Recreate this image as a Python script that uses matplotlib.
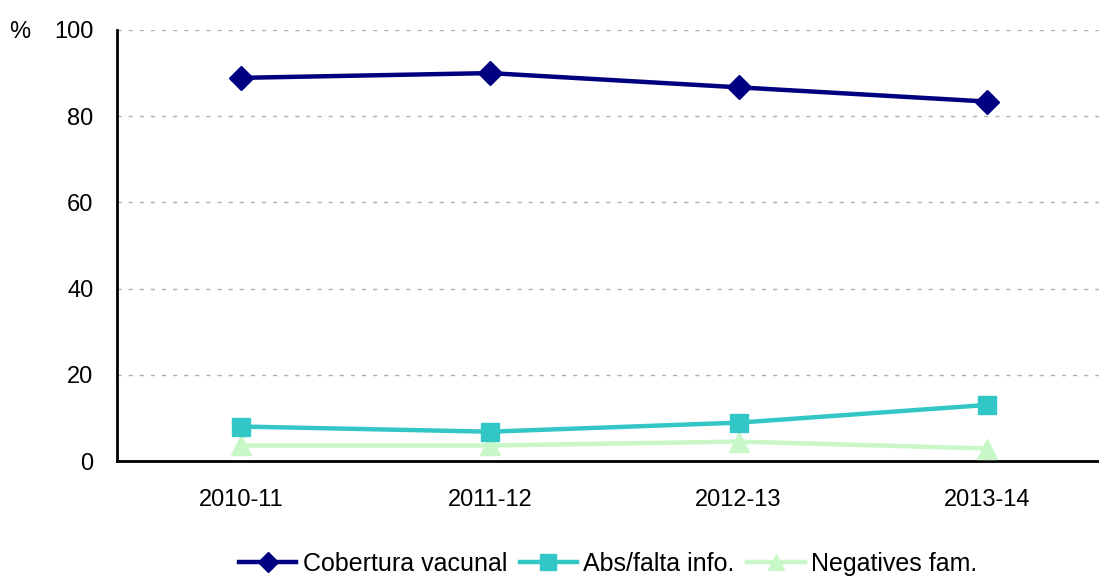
import matplotlib.pyplot as plt

plt.rcParams['font.family'] = ['Liberation Sans', 'DejaVu Sans']

seasons = ['2010-11', '2011-12', '2012-13', '2013-14']
cobertura = [88.9, 90.0, 86.7, 83.4]
abs_falta = [8.0, 6.8, 8.9, 13.0]
negatives = [3.6, 3.6, 4.5, 2.9]

fig = plt.figure(figsize=(10.99, 5.77), dpi=100)
ax = fig.add_axes([117 / 1099, 1 - 461 / 577, 1 - 117 / 1099, (461 - 30) / 577])

x = range(len(seasons))
ax.plot(x, cobertura, color='#000080', lw=3.2, marker='D', markersize=12,
        label='Cobertura vacunal', zorder=5)
ax.plot(x, abs_falta, color='#33C6C6', lw=3.2, marker='s', markersize=13,
        label='Abs/falta info.', zorder=4)
ax.plot(x, negatives, color='#C8F7C8', lw=3.2, marker='^', markersize=14,
        label='Negatives fam.', zorder=3)

ax.set_xlim(-0.5, 3.45)
ax.set_ylim(0, 100)
ax.set_yticks([0, 20, 40, 60, 80, 100])
ax.set_xticks(list(x))
ax.set_xticklabels(seasons)
ax.tick_params(axis='both', length=0, labelsize=17)
ax.tick_params(axis='y', pad=17)
ax.tick_params(axis='x', pad=20)

for y in [20, 40, 60, 80, 100]:
    ax.axhline(y, color='#b0b0b0', lw=1, ls=(0, (3, 5)), zorder=1)

for s in ['top', 'right']:
    ax.spines[s].set_visible(False)
ax.spines['left'].set_linewidth(2)
ax.spines['bottom'].set_linewidth(2)

fig.text(20 / 1099, 1 - 32 / 577, '%', fontsize=17, va='center', ha='center')

ax.legend(loc='center', bbox_to_anchor=(0.5, (461 - 564) / 431), ncol=3, frameon=False,
          fontsize=18, handlelength=2.3, handletextpad=0.25, columnspacing=0.5,
          borderpad=0.1, markerscale=0.85)

fig.savefig('out.png', dpi=100)
